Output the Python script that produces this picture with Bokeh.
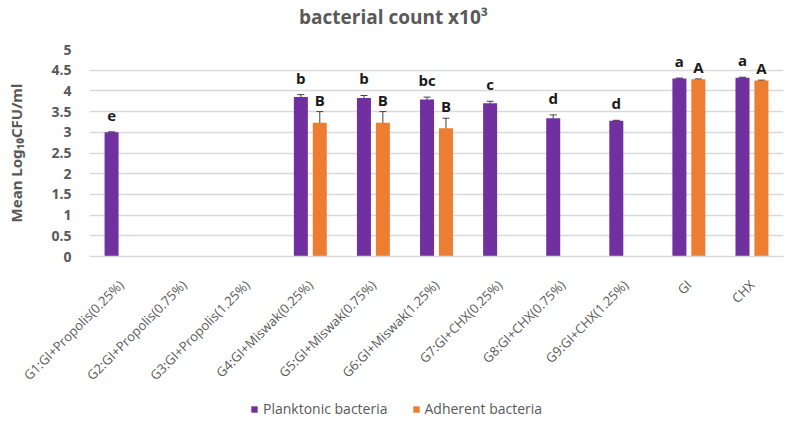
import math
from bokeh.plotting import figure
from bokeh.layouts import column
from bokeh.models import (ColumnDataSource, FactorRange, Range1d, Whisker, LabelSet, Label,
                          Legend, LegendItem, NumeralTickFormatter, SingleIntervalTicker, TeeHead)
from bokeh.transform import dodge
from bokeh.core.properties import value
from bokeh.embed import file_html
from bokeh.resources import INLINE

# ---------------- data ----------------
categories = ["G1:GI+Propolis(0.25%)", "G2:GI+Propolis(0.75%)", "G3:GI+Propolis(1.25%)",
              "G4:GI+Miswak(0.25%)", "G5:GI+Miswak(0.75%)", "G6:GI+Miswak(1.25%)",
              "G7:GI+CHX(0.25%)", "G8:GI+CHX(0.75%)", "G9:GI+CHX(1.25%)", "GI", "CHX"]
planktonic = [3.00, None, None, 3.85, 3.83, 3.79, 3.70, 3.34, 3.28, 4.30, 4.32]
planktonic_err = [0.01, None, None, 0.06, 0.06, 0.06, 0.05, 0.08, 0.01, 0.01, 0.01]
planktonic_letters = ["e", "", "", "b", "b", "bc", "c", "d", "d", "a", "a"]
adherent = [None, None, None, 3.23, 3.23, 3.10, None, None, None, 4.28, 4.25]
adherent_err = [None, None, None, 0.27, 0.27, 0.24, None, None, None, 0.01, 0.01]
adherent_letters = ["", "", "", "B", "B", "B", "", "", "", "A", "A"]

title_text = "bacterial count x10\u00b3"
y_label = "Mean Log\u2081\u2080CFU/ml"
series_names = ["Planktonic bacteria", "Adherent bacteria"]
y_min, y_max, y_step = 0, 5, 0.5

PURPLE = "#7030A0"
ORANGE = "#ED7D31"
GREY_TXT = "#595959"
GRID = "#D9D9D9"
FONT = "Open Sans"


def make_source(vals, errs, letters):
    d = dict(cat=[], val=[], upper=[], lower=[], letter=[])
    for c, v, e, l in zip(categories, vals, errs, letters):
        if v is None:
            continue
        d["cat"].append(c)
        d["val"].append(v)
        d["upper"].append(v + e)
        d["lower"].append(v - e)
        d["letter"].append(l)
    return ColumnDataSource(d)


src_p = make_source(planktonic, planktonic_err, planktonic_letters)
src_a = make_source(adherent, adherent_err, adherent_letters)

# ---------------- layout geometry (pixels) ----------------
W = 786
L_BORDER, R_BORDER = 89, 3
TITLE_H = 39
LEG_H = 22
H = 421 - TITLE_H - LEG_H
TOP_B = 10
BOTTOM_B = H - TOP_B - 207

# ---------------- title strip ----------------
pt = figure(width=W, height=TITLE_H, output_backend="svg", toolbar_location=None,
            x_range=Range1d(L_BORDER, W - R_BORDER), y_range=Range1d(0, TITLE_H),
            x_axis_location=None, y_axis_location=None,
            min_border_left=L_BORDER, min_border_right=R_BORDER,
            min_border_top=0, min_border_bottom=0)
pt.outline_line_color = None
pt.xgrid.visible = False
pt.ygrid.visible = False
pt.add_layout(Label(x=393, y=TITLE_H - 16, text=title_text, text_align="center",
                    text_baseline="alphabetic", text_font=FONT, text_font_style="bold",
                    text_font_size="19px", text_color=GREY_TXT))

# ---------------- main chart ----------------
p = figure(x_range=FactorRange(factors=categories, range_padding=0),
           y_range=Range1d(y_min, y_max),
           width=W, height=H, output_backend="svg", toolbar_location=None,
           min_border_left=L_BORDER, min_border_right=R_BORDER,
           min_border_top=TOP_B, min_border_bottom=BOTTOM_B)
p.outline_line_color = None
p.background_fill_color = "white"
p.border_fill_color = "white"

OFF = 0.15
BW = 0.222
r1 = p.vbar(x=dodge("cat", -OFF, range=p.x_range), top="val", width=BW, source=src_p,
            fill_color=PURPLE, line_color=None)
r2 = p.vbar(x=dodge("cat", OFF, range=p.x_range), top="val", width=BW, source=src_a,
            fill_color=ORANGE, line_color=None)

for src, off in ((src_p, -OFF), (src_a, OFF)):
    w = Whisker(source=src, base=dodge("cat", off, range=p.x_range), upper="upper", lower="lower",
                line_color="#404040", line_width=1,
                upper_head=TeeHead(size=7, line_color="#404040", line_width=1),
                lower_head=TeeHead(size=7, line_color="#404040", line_width=1))
    p.add_layout(w)

for src, off, yoff in ((src_p, -OFF, 11), (src_a, OFF, 6)):
    ls = LabelSet(source=src, x=dodge("cat", off, range=p.x_range), y="upper", text="letter",
                  text_align="center", text_baseline="alphabetic", y_offset=yoff,
                  text_font=value(FONT), text_font_style="bold", text_font_size="15px",
                  text_color="#1a1a1a")
    p.add_layout(ls)

p.xgrid.grid_line_color = None
p.ygrid.grid_line_color = GRID
p.ygrid.grid_line_width = 1.5
p.yaxis.ticker = SingleIntervalTicker(interval=y_step)
p.yaxis.formatter = NumeralTickFormatter(format="0.[0]")
p.yaxis.axis_line_color = None
p.yaxis.major_tick_line_color = None
p.yaxis.minor_tick_line_color = None
p.yaxis.major_label_standoff = 12
p.yaxis.major_label_text_font = FONT
p.yaxis.major_label_text_font_style = "bold"
p.yaxis.major_label_text_font_size = "14px"
p.yaxis.major_label_text_color = GREY_TXT
p.yaxis.axis_label = y_label
p.yaxis.axis_label_text_font = "Noto Sans"
p.yaxis.axis_label_text_font_style = "bold"
p.yaxis.axis_label_text_font_size = "15px"
p.yaxis.axis_label_text_color = GREY_TXT
p.yaxis.axis_label_standoff = 22

p.xaxis.axis_line_color = GRID
p.xaxis.axis_line_width = 1.5
p.xaxis.major_tick_line_color = None
p.xaxis.minor_tick_line_color = None
p.xaxis.major_label_orientation = math.pi / 4
p.xaxis.major_label_standoff = 20
p.xaxis.major_label_text_font = FONT
p.xaxis.major_label_text_font_size = "13px"
p.xaxis.major_label_text_color = GREY_TXT

# ---------------- legend strip ----------------
pl = figure(width=W, height=LEG_H, output_backend="svg", toolbar_location=None,
            x_range=Range1d(0, 1), y_range=Range1d(0, 1),
            x_axis_location=None, y_axis_location=None,
            min_border_left=L_BORDER, min_border_right=R_BORDER,
            min_border_top=0, min_border_bottom=0)
pl.outline_line_color = None
pl.xgrid.visible = False
pl.ygrid.visible = False
nan = float("nan")
l1 = pl.vbar(x=[nan], top=[nan], width=0.1, fill_color=PURPLE, line_color=None)
l2 = pl.vbar(x=[nan], top=[nan], width=0.1, fill_color=ORANGE, line_color=None)
legend = Legend(items=[LegendItem(label=series_names[0], renderers=[l1]),
                       LegendItem(label=series_names[1], renderers=[l2])],
                location=(250 - L_BORDER, 3), orientation="horizontal",
                background_fill_alpha=0, border_line_color=None, padding=0, margin=0,
                spacing=24, label_standoff=5, glyph_width=8, glyph_height=8,
                label_height=16, label_text_font=FONT, label_text_font_size="14px",
                label_text_color=GREY_TXT)
pl.add_layout(legend)

layout = column(pt, p, pl, spacing=0)
open("out.html", "w").write(file_html(layout, INLINE))
